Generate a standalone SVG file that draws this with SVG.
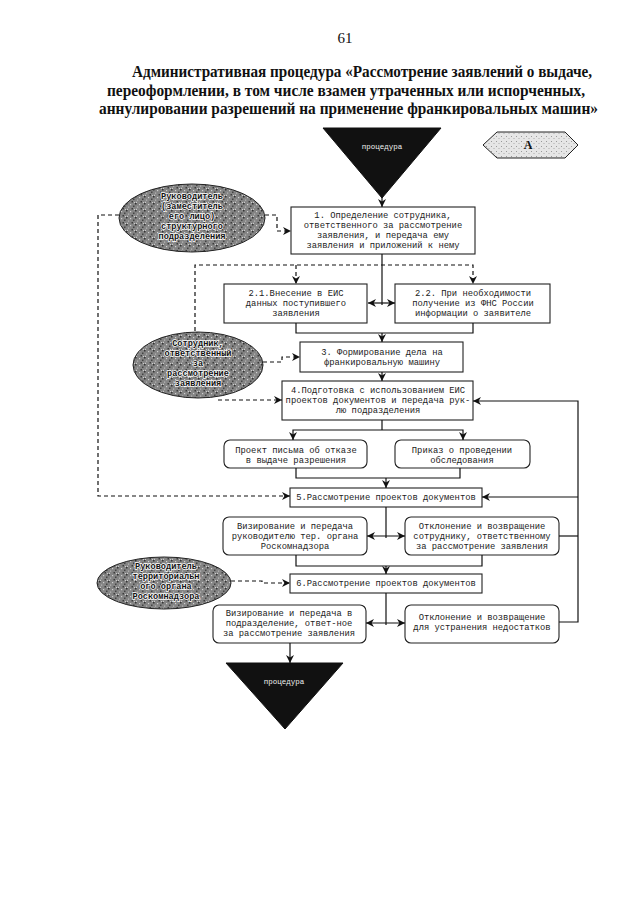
<svg xmlns="http://www.w3.org/2000/svg" width="640" height="905" viewBox="0 0 640 905">
<style>
.title{font-family:"Liberation Serif","Times New Roman",serif;font-weight:bold;font-size:16px;fill:#111}
.pg{font-family:"Liberation Serif",serif;font-size:15px;fill:#111}
.bx{fill:#fff;stroke:#222;stroke-width:1.1}
.t{font-family:"Liberation Mono","Courier New",monospace;font-size:8.8px;fill:#222;text-anchor:middle;dominant-baseline:middle}
.el{fill:url(#grain);stroke:#222;stroke-width:1}
.et{font-family:"Liberation Mono","Courier New",monospace;font-size:8.6px;font-weight:bold;fill:#111;text-anchor:middle;dominant-baseline:middle;stroke:#fff;stroke-width:1.4;paint-order:stroke}
.ln{fill:none;stroke:#111;stroke-width:1.2}
.ds{fill:none;stroke:#111;stroke-width:1.2;stroke-dasharray:4,3}
.tri{fill:#111;stroke:#111}
.tt{font-family:"Liberation Mono",monospace;font-size:7.5px;fill:#eee;text-anchor:middle;dominant-baseline:middle}
</style>
<defs>
<pattern id="grain" width="9" height="7" patternUnits="userSpaceOnUse">
<rect width="9" height="7" fill="#848484"/>
<rect x="0" y="0" width="1.5" height="1.5" fill="#333"/>
<rect x="4" y="1" width="1.2" height="1.2" fill="#d0d0d0"/>
<rect x="7" y="2.5" width="1.5" height="1.5" fill="#444"/>
<rect x="2" y="3.5" width="1.2" height="1.2" fill="#bbb"/>
<rect x="5.5" y="5" width="1.5" height="1.5" fill="#3c3c3c"/>
<rect x="1" y="5.8" width="1" height="1" fill="#ddd"/>
<rect x="8" y="6" width="1" height="1" fill="#ccc"/>
</pattern>
<pattern id="lg" width="5" height="5" patternUnits="userSpaceOnUse">
<rect width="5" height="5" fill="#e6e6e6"/>
<rect x="1" y="1" width="1" height="1" fill="#999"/>
<rect x="3.5" y="3" width="1" height="1" fill="#aaa"/>
</pattern>
<marker id="ar" viewBox="0 0 10 10" refX="10" refY="5" markerWidth="8" markerHeight="8" orient="auto-start-reverse" markerUnits="userSpaceOnUse">
<path d="M0,0 L10,5 L0,10 L3,5 z" fill="#111"/>
</marker>
</defs>

<text class="pg" x="345" y="43" text-anchor="middle">61</text>
<text class="title" x="132" y="77" textLength="460" lengthAdjust="spacingAndGlyphs">Административная процедура «Рассмотрение заявлений о выдаче,</text>
<text class="title" x="107" y="96" textLength="478" lengthAdjust="spacingAndGlyphs">переоформлении, в том числе взамен утраченных или испорченных,</text>
<text class="title" x="99" y="114" textLength="499" lengthAdjust="spacingAndGlyphs">аннулировании разрешений на применение франкировальных машин»</text>

<g id="start">
<polygon class="tri" points="323,128 441,128 382,198"/>
<text class="tt" x="382" y="147">процедура</text>
</g>
<g id="connA">
<polygon points="483,145 497,132 565,132 578,145 565,158 497,158" fill="url(#lg)" stroke="#222" stroke-width="1"/>
<text x="528" y="146" font-family="Liberation Serif,serif" font-weight="bold" font-size="12" text-anchor="middle" dominant-baseline="middle" fill="#111">А</text>
</g>

<g id="e1">
<ellipse class="el" cx="192" cy="218" rx="73" ry="34"/>
<text class="et" x="192" y="197">Руководитель</text>
<text class="et" x="192" y="207">(заместитель</text>
<text class="et" x="192" y="217">его лицо)</text>
<text class="et" x="192" y="227">структурного</text>
<text class="et" x="192" y="237">подразделения</text>
</g>
<g id="e2">
<ellipse class="el" cx="198" cy="365" rx="65" ry="33"/>
<text class="et" x="198" y="344">Сотрудник,</text>
<text class="et" x="198" y="354">ответственный</text>
<text class="et" x="198" y="364">за</text>
<text class="et" x="198" y="374">рассмотрение</text>
<text class="et" x="198" y="384">заявления</text>
</g>
<g id="e3">
<ellipse class="el" cx="164" cy="583" rx="67" ry="26"/>
<text class="et" x="166" y="567">Руководитель</text>
<text class="et" x="166" y="577">территориальн</text>
<text class="et" x="166" y="587">ого органа</text>
<text class="et" x="166" y="597">Роскомнадзора</text>
</g>

<g id="b1">
<rect class="bx" x="291" y="207" width="184" height="47"/>
<text class="t" x="383" y="216">1. Определение сотрудника,</text>
<text class="t" x="383" y="226">ответственного за рассмотрение</text>
<text class="t" x="383" y="236">заявления, и передача ему</text>
<text class="t" x="383" y="246">заявления и приложений к нему</text>
</g>
<g id="b21">
<rect class="bx" x="224" y="284" width="143" height="39"/>
<text class="t" x="296" y="294">2.1.Внесение в ЕИС</text>
<text class="t" x="296" y="304">данных поступившего</text>
<text class="t" x="296" y="314">заявления</text>
</g>
<g id="b22">
<rect class="bx" x="395" y="284" width="155" height="39"/>
<text class="t" x="473" y="294">2.2. При необходимости</text>
<text class="t" x="473" y="304">получение из ФНС России</text>
<text class="t" x="473" y="314">информации о заявителе</text>
</g>
<g id="b3">
<rect class="bx" x="300" y="342" width="163" height="30"/>
<text class="t" x="382" y="353">3. Формирование дела на</text>
<text class="t" x="382" y="363">франкировальную машину</text>
</g>
<g id="b4">
<rect class="bx" x="282" y="381" width="191" height="39"/>
<text class="t" x="378" y="391">4.Подготовка с использованием ЕИС</text>
<text class="t" x="378" y="401">проектов документов и передача рук-</text>
<text class="t" x="378" y="411">лю подразделения</text>
</g>
<g id="r1">
<rect class="bx" x="224" y="440" width="143" height="28" rx="6"/>
<text class="t" x="296" y="451">Проект письма об отказе</text>
<text class="t" x="296" y="461">в выдаче разрешения</text>
</g>
<g id="r2">
<rect class="bx" x="395" y="440" width="135" height="28" rx="6"/>
<text class="t" x="462" y="451">Приказ о проведении</text>
<text class="t" x="462" y="461">обследования</text>
</g>
<g id="b5">
<rect class="bx" x="290" y="488" width="192" height="19"/>
<text class="t" x="386" y="498">5.Рассмотрение проектов документов</text>
</g>
<g id="r3">
<rect class="bx" x="223" y="517" width="144" height="38" rx="6"/>
<text class="t" x="295" y="527">Визирование и передача</text>
<text class="t" x="295" y="537">руководителю тер. органа</text>
<text class="t" x="295" y="547">Роскомнадзора</text>
</g>
<g id="r4">
<rect class="bx" x="405" y="517" width="154" height="38" rx="6"/>
<text class="t" x="482" y="527">Отклонение и возвращение</text>
<text class="t" x="482" y="537">сотруднику, ответственному</text>
<text class="t" x="482" y="547">за рассмотрение заявления</text>
</g>
<g id="b6">
<rect class="bx" x="290" y="574" width="192" height="19"/>
<text class="t" x="386" y="584">6.Рассмотрение проектов документов</text>
</g>
<g id="r5">
<rect class="bx" x="213" y="605" width="153" height="38" rx="6"/>
<text class="t" x="289" y="614">Визирование и передача в</text>
<text class="t" x="289" y="624">подразделение, ответ-ное</text>
<text class="t" x="289" y="634">за рассмотрение заявления</text>
</g>
<g id="r6">
<rect class="bx" x="405" y="605" width="154" height="38" rx="6"/>
<text class="t" x="482" y="618">Отклонение и возвращение</text>
<text class="t" x="482" y="628">для устранения недостатков</text>
</g>
<g id="end">
<polygon class="tri" points="226,663 343,663 285,729"/>
<text class="tt" x="284" y="682">процедура</text>
</g>

<g id="connectors">
<path class="ln" d="M382,196 V207" marker-end="url(#ar)"/>
<path class="ln" d="M382,254 V305"/>
<path class="ln" d="M368,303 H395" marker-start="url(#ar)" marker-end="url(#ar)"/>
<path class="ds" d="M195,331 V265 H473 V284" marker-end="url(#ar)"/>
<path class="ds" d="M296,265 V284" marker-end="url(#ar)"/>
<path class="ln" d="M296,323 V333 H473 V323"/>
<path class="ln" d="M382,333 V342" marker-end="url(#ar)"/>
<path class="ds" d="M265,215 H277 V231 H291" marker-end="url(#ar)"/>
<path class="ds" d="M119,215 H98 V496 H290" marker-end="url(#ar)"/>
<path class="ds" d="M263,362 H282 V357 H300" marker-end="url(#ar)"/>
<path class="ds" d="M218,400 H282" marker-end="url(#ar)"/>
<path class="ln" d="M382,372 V381" marker-end="url(#ar)"/>
<path class="ln" d="M382,420 V430"/>
<path class="ln" d="M293,440 V430 H463 V440" marker-start="url(#ar)" marker-end="url(#ar)"/>
<path class="ln" d="M296,468 V478 H460 V468"/>
<path class="ln" d="M386,478 V488" marker-end="url(#ar)"/>
<path class="ln" d="M386,507 V538"/>
<path class="ln" d="M367,536 H405" marker-start="url(#ar)" marker-end="url(#ar)"/>
<path class="ln" d="M296,555 V566 H482 V555"/>
<path class="ln" d="M386,566 V574" marker-end="url(#ar)"/>
<path class="ds" d="M231,581 H262 V583 H290" marker-end="url(#ar)"/>
<path class="ln" d="M386,593 V625"/>
<path class="ln" d="M366,623 H405" marker-start="url(#ar)" marker-end="url(#ar)"/>
<path class="ln" d="M290,643 V663" marker-end="url(#ar)"/>
<path class="ln" d="M559,622 H578 V401 H473" marker-end="url(#ar)"/>
<path class="ln" d="M578,497 H482" marker-end="url(#ar)"/>
<path class="ln" d="M559,536 H578"/>
</g>
</svg>
